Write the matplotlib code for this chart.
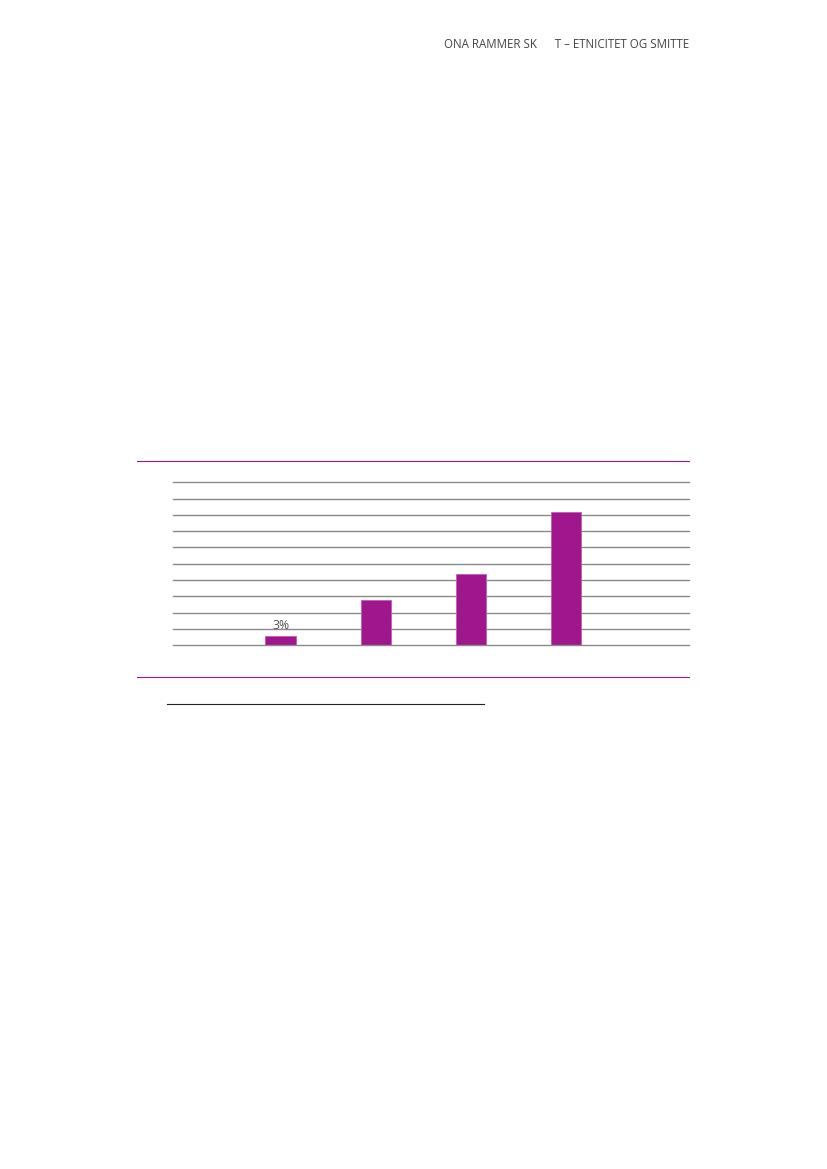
import matplotlib.pyplot as plt
from matplotlib.lines import Line2D

# bar values in percent, read from the page (gridlines every 5 %)
values = [3, 14, 22, 41]
positions = [0, 1, 2, 3]
shown_labels = ["3%", "", "", ""]
grid_steps = [0, 5, 10, 15, 20, 25, 30, 35, 40, 45, 50]
header = "ONA RAMMER SK      T – ETNICITET OG SMITTE"

purple = "#a0168c"

W, H = 827, 1169
fig = plt.figure(figsize=(W / 100, H / 100), dpi=100)
fig.patch.set_facecolor("white")

ax = fig.add_axes([173 / W, 1 - 645.3 / H, 516 / W, 163 / H])
ax.bar(positions, values, width=0.32, color=purple, edgecolor="#c060b0", linewidth=0.6, zorder=3)
for y in grid_steps:
    ax.axhline(y, color="#8a8a8a", linewidth=1.0, zorder=4 if y == 0 else 1, clip_on=False)
for x, v, lab in zip(positions, values, shown_labels):
    if lab:
        ax.text(x, v + 1.2, lab, ha="center", va="bottom", fontsize=8.8, color="#555555",
                family="Open Sans")
ax.set_xlim(-1.13, 4.29)
ax.set_ylim(0, 50)
ax.axis("off")

# frame lines round the figure box and the footnote rule
fig.add_artist(Line2D([137 / W, 689 / W], [1 - 461 / H, 1 - 461 / H], color=purple, linewidth=0.8))
fig.add_artist(Line2D([137 / W, 689 / W], [1 - 677 / H, 1 - 677 / H], color=purple, linewidth=0.8))
fig.add_artist(Line2D([167 / W, 484 / W], [1 - 704 / H, 1 - 704 / H], color="#222222", linewidth=0.8))

fig.text(689 / W, 1 - 45 / H, header, ha="right", va="center", fontsize=8.3, color="#444444",
         family="Open Sans")

fig.savefig("out.png", dpi=100)
